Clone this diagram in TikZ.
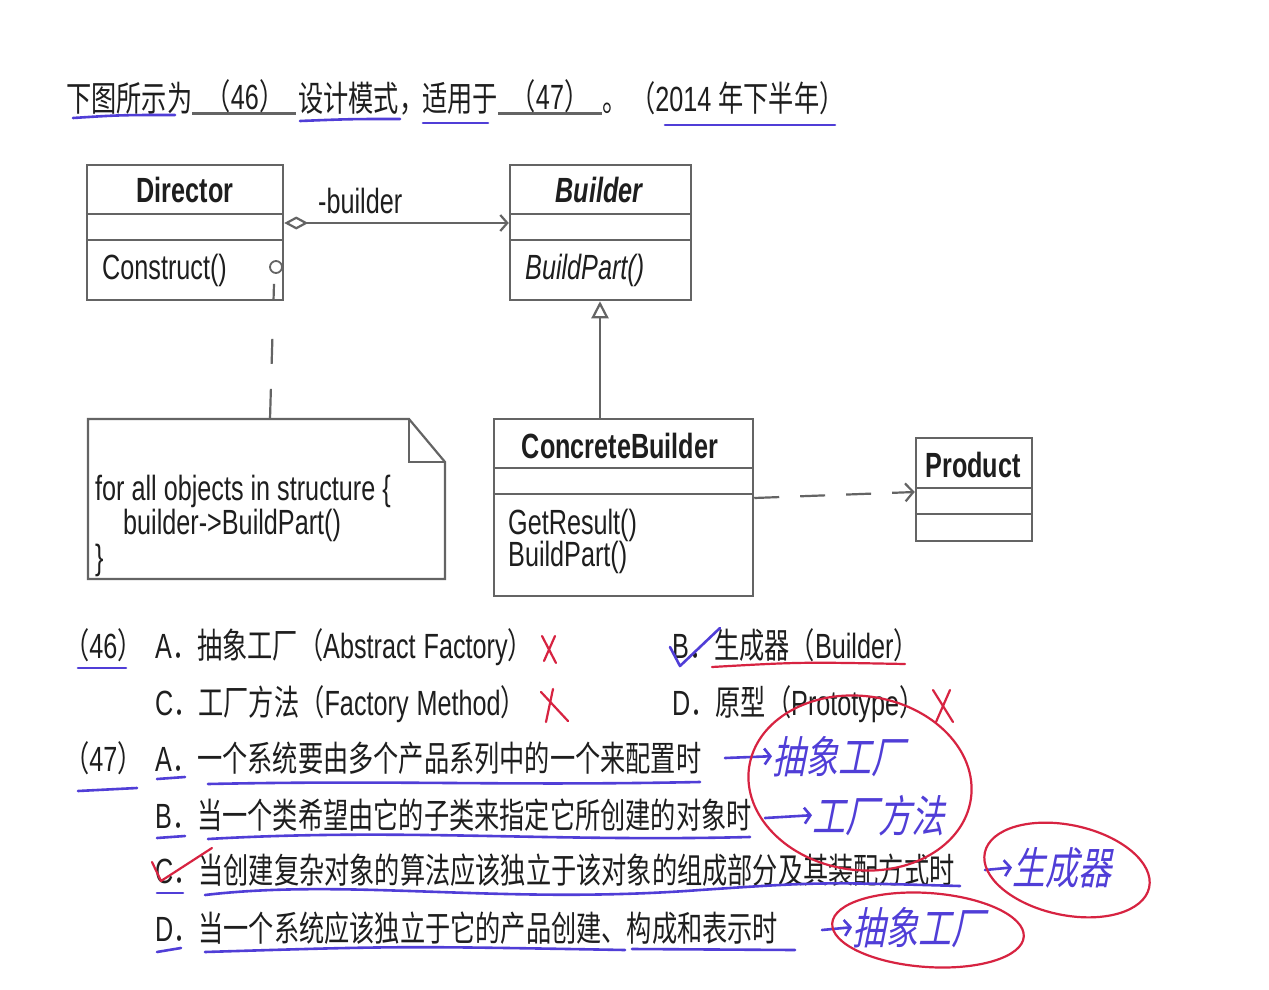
\documentclass[tikz,border=0pt]{standalone}
\usepackage{fontspec}
\setmainfont{Liberation Sans}[FakeStretch=0.72]
\newfontfamily\cjk{Noto Sans CJK SC}[FakeStretch=0.72]
\newfontfamily\hand{Noto Sans CJK SC}[FakeStretch=0.75,FakeSlant=0.2]
\usetikzlibrary{arrows.meta,calc}
\definecolor{umlgray}{RGB}{100,100,100}
\definecolor{ink}{RGB}{30,30,30}
\definecolor{penblue}{RGB}{80,62,215}
\definecolor{penred}{RGB}{215,35,65}
\tikzset{
  txt/.style={anchor=base west, inner sep=0pt, font=\fontsize{35}{42}\selectfont, text=ink},
  ctxt/.style={txt, anchor=base},
  classbox/.style={draw=umlgray, line width=2.5pt, fill=white, inner sep=0pt},
  divider/.style={draw=umlgray, line width=2.5pt},
  umlline/.style={draw=umlgray, line width=2.2pt},
  fillline/.style={draw=umlgray, line width=3pt},
  bluepen/.style={draw=penblue, line width=2.6pt, line cap=round, line join=round},
  redpen/.style={draw=penred, line width=2.2pt, line cap=round, line join=round},
  handtxt/.style={anchor=base west, inner sep=0pt, font=\hand\fontsize{44}{50}\selectfont, text=penblue},
}
\begin{document}
\begin{tikzpicture}[x=1pt,y=-1pt]
\useasboundingbox (0,0) rectangle (1269,990);
\fill[white] (0,0) rectangle (1269,990);

% ---------- title line ----------
\node[txt] (t1) at (66,111) {\cjk 下图所示为};
\coordinate (f1a) at (192,113); \coordinate (f1b) at (296,113);
\draw[fillline] (f1a) -- (f1b);
\node[ctxt] (t46) at (245,109) {{\cjk（}46{\cjk）}};
\node[txt] (t2) at (298,111) {\cjk 设计模式，};
\node[txt] (t3) at (422,111) {\cjk 适用于};
\coordinate (f2a) at (498,113); \coordinate (f2b) at (602,113);
\draw[fillline] (f2a) -- (f2b);
\node[ctxt] (t47) at (550,109) {{\cjk（}47{\cjk）}};
\node[txt] (t4) at (602,111) {\cjk 。};
\node[txt] (t5) at (630,111) {{\cjk（}2014 {\cjk 年下半年）}};
\draw[bluepen] (73,118) .. controls (120,115) .. (175,115);
\draw[bluepen] (300,121) .. controls (350,119) .. (400,119);
\draw[bluepen] (423,123) -- (488,123);
\draw[bluepen] (665,125) -- (835,125);

% ---------- UML classes ----------
\node[classbox, minimum width=196pt, minimum height=135pt] (dir) at (185,232.5) {};
\draw[divider] (dir.west |- 0,214) -- (dir.east |- 0,214);
\draw[divider] (dir.west |- 0,240) -- (dir.east |- 0,240);
\node[ctxt] (dirname) at (185,202) {\bfseries Director};
\node[txt] (dirop) at (102,279) {Construct()};

\node[classbox, minimum width=181pt, minimum height=135pt] (bld) at (600.5,232.5) {};
\draw[divider] (bld.west |- 0,214) -- (bld.east |- 0,214);
\draw[divider] (bld.west |- 0,240) -- (bld.east |- 0,240);
\node[ctxt] (bldname) at (599,202) {\bfseries\itshape Builder};
\node[txt] (bldop) at (525,279) {\itshape BuildPart()};

\node[classbox, minimum width=259pt, minimum height=177pt] (cb) at (623.5,507.5) {};
\draw[divider] (cb.west |- 0,468) -- (cb.east |- 0,468);
\draw[divider] (cb.west |- 0,494) -- (cb.east |- 0,494);
\node[ctxt] (cbname) at (620,458) {\bfseries ConcreteBuilder};
\node[txt] (cbop1) at (508,534) {GetResult()};
\node[txt] (cbop2) at (508,566) {BuildPart()};

\node[classbox, minimum width=116pt, minimum height=103pt] (prod) at (974,489.5) {};
\draw[divider] (prod.west |- 0,488) -- (prod.east |- 0,488);
\draw[divider] (prod.west |- 0,514) -- (prod.east |- 0,514);
\node[ctxt] (prodname) at (973,477) {\bfseries Product};

% ---------- note ----------
\draw[umlline, fill=white] (88,419) -- (409,419) -- (445,462) -- (445,579) -- (88,579) -- cycle;
\draw[umlline] (409,419) -- (409,462) -- (445,462);
\coordinate (notetop) at (270,419);
\node[txt] (n1) at (95,500) {for all objects in structure \{};
\node[txt] (n2) at (123,534) {builder->BuildPart()};
\node[txt] (n3) at (95,569) {\}};

% ---------- connectors ----------
\draw[umlline, {Diamond[open,length=24pt,width=13pt]}-{Straight Barb[length=7pt,width=16pt]}]
  (dir.east |- 0,223) -- (bld.west |- 0,223);
\node[txt] (rolelbl) at (318,213) {-builder};
\draw[umlline, -{Triangle[open,length=17pt,width=17pt]}] (cb.north -| 600,0) -- (bld.south -| 600,0);
\draw[umlline, dash pattern=on 25pt off 21pt, -{Straight Barb[length=8pt,width=18pt]}]
  (cb.east |- 0,498) -- (prod.west |- 0,492);
\node[circle, draw=umlgray, line width=1.8pt, minimum size=12pt, inner sep=0pt] (anch) at (276,267) {};
\coordinate (anchS) at ($(anch.south)+(-2,10)$);
\draw[umlline, dash pattern=on 15pt off 40pt on 25pt off 25pt on 40pt off 0pt] (anchS) -- (notetop);

% ---------- question 46 ----------
\node[txt] (q46) at (64,658) {{\cjk（}46{\cjk）}};
\node[txt] (a46) at (155,658) {A{\cjk．抽象工厂（}Abstract\hspace{8pt}Factory{\cjk）}};
\node[txt] (b46) at (672,658) {B{\cjk．生成器（}Builder{\cjk）}};
\node[txt] (c46) at (155,715) {C{\cjk．工厂方法（}Factory\hspace{8pt}Method{\cjk）}};
\node[txt] (d46) at (672,715) {D{\cjk．原型（}Prototype{\cjk）}};
\draw[bluepen] (78,668) -- (126,668);
\draw[bluepen] (670,647) -- (680,666) -- (720,628);
\draw[redpen] (712,667) .. controls (800,662) .. (905,664);
\draw[redpen] (542,636) -- (556,663); \draw[redpen] (555,636) -- (544,661);
\draw[redpen] (541,692) -- (568,721); \draw[redpen] (553,689) -- (546,722);
\draw[redpen] (933,690) -- (953,722); \draw[redpen] (950,690) -- (936,722);

% ---------- question 47 ----------
\node[txt] (q47) at (64,771) {{\cjk（}47{\cjk）}};
\node[txt] (a47) at (155,771) {A{\cjk．一个系统要由多个产品系列中的一个来配置时}};
\node[txt] (b47) at (155,828) {B{\cjk．当一个类希望由它的子类来指定它所创建的对象时}};
\node[txt] (c47) at (155,883) {C{\cjk．当创建复杂对象的算法应该独立于该对象的组成部分及其装配方式时}};
\node[txt] (d47) at (155,941) {D{\cjk．当一个系统应该独立于它的产品创建、构成和表示时}};

\draw[bluepen] (78,791) -- (137,788);
\draw[bluepen] (157,779) -- (185,777);
\draw[bluepen] (208,784) .. controls (400,780) and (500,786) .. (700,782);
\draw[bluepen] (157,838) -- (185,836);
\draw[bluepen] (208,839) .. controls (400,828) and (550,842) .. (750,837);
\draw[redpen] (152,862) -- (161,881) -- (212,848);
\draw[bluepen] (157,893) -- (183,893);
\draw[bluepen] (205,895) .. controls (350,878) and (500,905) .. (700,890) .. controls (820,882) .. (960,886);
\draw[bluepen] (157,952) -- (181,948);
\draw[bluepen] (205,952) .. controls (400,946) .. (625,950);
\draw[bluepen] (632,949) -- (795,950);

% ---------- handwritten notes ----------
\node[handtxt] (ha) at (772,773) {抽象工厂};
\node[handtxt] (hb) at (812,832) {工厂方法};
\node[handtxt] (hc) at (1012,884) {生成器};
\node[handtxt] (hd) at (852,944) {抽象工厂};
\coordinate (haS) at (725,758);
\coordinate (hbS) at (765,818);
\coordinate (hcS) at (985,870);
\coordinate (hdS) at (822,930);
\draw[bluepen, -{Straight Barb[length=6pt,width=16pt]}] (haS) -- (ha.west);
\draw[bluepen, -{Straight Barb[length=6pt,width=16pt]}] (hbS) -- (hb.west);
\draw[bluepen, -{Straight Barb[length=6pt,width=16pt]}] (hcS) -- (hc.west);
\draw[bluepen, -{Straight Barb[length=6pt,width=16pt]}] (hdS) -- (hd.west);

\draw[redpen, rotate around={-8:(860,783)}] (860,783) ellipse [x radius=112, y radius=87];
\draw[redpen, rotate around={-12:(1067,870)}] (1067,870) ellipse [x radius=84, y radius=45];
\draw[redpen, rotate around={-4:(928,930)}] (928,930) ellipse [x radius=96, y radius=37];
\end{tikzpicture}
\end{document}
